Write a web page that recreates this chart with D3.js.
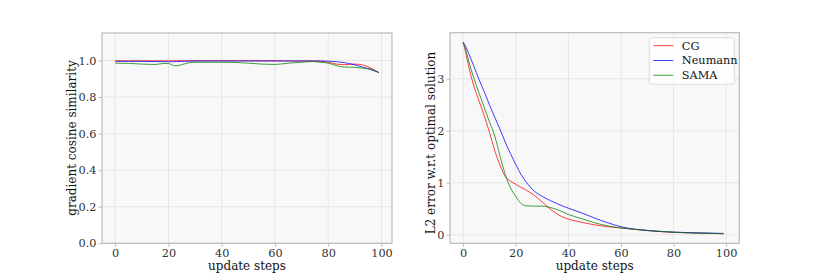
<!DOCTYPE html>
<html>
<head>
<script src="https://cdnjs.cloudflare.com/ajax/libs/d3/7.8.5/d3.min.js"></script>
<style>
  body { margin: 0; background: #fff; }
  text { font-family: "DejaVu Serif", serif; }
</style>
</head>
<body>
<div id="chart"></div>
<script>
// left panel: gradient cosine similarity
var simSteps = [0, 5, 10, 15, 18, 20, 22, 23, 25, 28, 30, 35, 40, 45, 50, 55, 60, 65, 70, 74, 77, 80, 83, 86, 90, 93, 96, 99];
var simCG = [0.998, 0.998, 0.998, 0.998, 0.998, 0.998, 0.998, 0.998, 0.998, 0.998, 0.998, 0.998, 0.998, 0.998, 0.998, 0.998, 0.998, 0.997, 0.997, 0.997, 0.996, 0.99, 0.98, 0.977, 0.98, 0.975, 0.958, 0.934];
var simNeumann = [0.995, 0.995, 0.995, 0.994, 0.993, 0.993, 0.993, 0.994, 0.995, 0.996, 0.997, 0.997, 0.997, 0.997, 0.997, 0.997, 0.997, 0.997, 0.997, 0.997, 0.997, 0.996, 0.993, 0.988, 0.976, 0.963, 0.95, 0.934];
var simSAMA = [0.985, 0.984, 0.98, 0.978, 0.983, 0.983, 0.972, 0.97, 0.977, 0.988, 0.99, 0.99, 0.99, 0.989, 0.985, 0.98, 0.978, 0.985, 0.99, 0.994, 0.99, 0.985, 0.972, 0.964, 0.962, 0.958, 0.952, 0.934];

// right panel: L2 error w.r.t optimal solution
var errSteps = [0, 1, 2, 4, 6, 8, 10, 12, 14, 16, 18, 20, 22, 24, 27, 30, 33, 36, 40, 45, 50, 55, 60, 70, 80, 90, 99];
var errCG = [3.70, 3.50, 3.26, 2.87, 2.58, 2.29, 1.97, 1.62, 1.34, 1.12, 1.03, 0.97, 0.91, 0.855, 0.76, 0.63, 0.50, 0.39, 0.30, 0.24, 0.19, 0.155, 0.13, 0.08, 0.045, 0.03, 0.02];
var errNeumann = [3.70, 3.62, 3.50, 3.25, 2.99, 2.75, 2.50, 2.26, 2.03, 1.78, 1.56, 1.35, 1.16, 1.01, 0.84, 0.74, 0.66, 0.59, 0.51, 0.42, 0.32, 0.23, 0.155, 0.08, 0.05, 0.035, 0.025];
var errSAMA = [3.70, 3.55, 3.36, 3.02, 2.73, 2.45, 2.17, 1.90, 1.52, 1.16, 0.90, 0.74, 0.60, 0.555, 0.55, 0.55, 0.525, 0.48, 0.39, 0.31, 0.23, 0.17, 0.13, 0.085, 0.05, 0.03, 0.02];

var seriesNames = ["CG", "Neumann", "SAMA"];
var seriesColors = ["#ff0000", "#0000ff", "#008000"];
var xTicks = [0, 20, 40, 60, 80, 100];
var simTicks = [0.0, 0.2, 0.4, 0.6, 0.8, 1.0];
var errTicks = [0, 1, 2, 3];

var svg = d3.select("#chart").append("svg")
  .attr("width", 822)
  .attr("height", 274);

function drawPanel(opts) {
  var x = d3.scaleLinear().domain(opts.xDomain).range([opts.left, opts.right]);
  var y = d3.scaleLinear().domain(opts.yDomain).range([opts.bottom, opts.top]);
  var g = svg.append("g");

  g.append("rect")
    .attr("x", opts.left).attr("y", opts.top)
    .attr("width", opts.right - opts.left)
    .attr("height", opts.bottom - opts.top)
    .attr("fill", "#f8f8f8");

  // grid
  g.selectAll("line.vgrid").data(xTicks).enter().append("line")
    .attr("x1", function(d) { return x(d); }).attr("x2", function(d) { return x(d); })
    .attr("y1", opts.top).attr("y2", opts.bottom)
    .attr("stroke", "#e6e6e6").attr("stroke-width", 1);
  g.selectAll("line.hgrid").data(opts.yTicks).enter().append("line")
    .attr("y1", function(d) { return y(d); }).attr("y2", function(d) { return y(d); })
    .attr("x1", opts.left).attr("x2", opts.right)
    .attr("stroke", "#e6e6e6").attr("stroke-width", 1);

  var xAxis = g.append("g")
    .attr("transform", "translate(0," + opts.bottom + ")")
    .call(d3.axisBottom(x).tickValues(xTicks).tickSize(3.5).tickPadding(2).tickFormat(d3.format("d")));
  var yAxis = g.append("g")
    .attr("transform", "translate(" + opts.left + ",0)")
    .call(d3.axisLeft(y).tickValues(opts.yTicks).tickSize(3.5).tickPadding(2).tickFormat(opts.yFormat));
  [xAxis, yAxis].forEach(function(a) {
    a.select(".domain").remove();
    a.selectAll(".tick line").attr("stroke", "#bbbbbb");
    a.selectAll(".tick text").attr("fill", "#333333")
      .style("font-family", "'DejaVu Serif', serif").style("font-size", "11.3px");
  });

  var line = d3.line()
    .x(function(d) { return x(d[0]); })
    .y(function(d) { return y(d[1]); })
    .curve(d3.curveMonotoneX);

  opts.series.forEach(function(vals, i) {
    g.append("path")
      .datum(opts.steps.map(function(s, j) { return [s, vals[j]]; }))
      .attr("d", line)
      .attr("fill", "none")
      .attr("stroke", seriesColors[i])
      .attr("stroke-opacity", 0.75)
      .attr("stroke-width", 1);
  });

  // frame
  g.append("rect")
    .attr("x", opts.left).attr("y", opts.top)
    .attr("width", opts.right - opts.left)
    .attr("height", opts.bottom - opts.top)
    .attr("fill", "none")
    .attr("stroke", "#bbbbbb").attr("stroke-width", 1.2);

  g.append("text")
    .attr("x", (opts.left + opts.right) / 2)
    .attr("y", 269.5)
    .attr("text-anchor", "middle")
    .attr("font-size", "12px")
    .attr("fill", "#111")
    .text("update steps");

  g.append("text")
    .attr("transform", "translate(" + opts.ylabelX + "," + opts.ylabelY + ") rotate(-90)")
    .attr("text-anchor", "middle")
    .attr("dy", "0.35em")
    .attr("font-size", "12px")
    .attr("fill", "#111")
    .text(opts.ylabel);

  return g;
}

drawPanel({
  left: 102, right: 392, top: 33, bottom: 243.3,
  xDomain: [-4.95, 103.95], yDomain: [0, 1.15],
  yTicks: simTicks, yFormat: d3.format(".1f"),
  steps: simSteps, series: [simCG, simNeumann, simSAMA],
  ylabel: "gradient cosine similarity", ylabelX: 72, ylabelY: 138
});

var right = drawPanel({
  left: 450, right: 739.3, top: 32.7, bottom: 243.3,
  xDomain: [-5, 105], yDomain: [-0.165, 3.885],
  yTicks: errTicks, yFormat: d3.format("d"),
  steps: errSteps, series: [errCG, errNeumann, errSAMA],
  ylabel: "L2 error w.r.t optimal solution", ylabelX: 431, ylabelY: 143
});

// legend
var legend = right.append("g").attr("transform", "translate(649.3,37.7)");
legend.append("rect")
  .attr("width", 85).attr("height", 46.5)
  .attr("rx", 2).attr("ry", 2)
  .attr("fill", "#ffffff").attr("fill-opacity", 0.8)
  .attr("stroke", "#dddddd").attr("stroke-width", 1);
var rows = legend.selectAll("g.row").data(seriesNames).enter().append("g")
  .attr("transform", function(d, i) { return "translate(0," + (8 + i * 14.8) + ")"; });
rows.append("line")
  .attr("x1", 4).attr("x2", 24)
  .attr("stroke", function(d, i) { return seriesColors[i]; })
  .attr("stroke-opacity", 0.75)
  .attr("stroke-width", 1);
rows.append("text")
  .attr("x", 32.5).attr("dy", "0.35em")
  .attr("font-size", "11.3px")
  .attr("fill", "#111")
  .text(function(d) { return d; });
</script>
</body>
</html>
